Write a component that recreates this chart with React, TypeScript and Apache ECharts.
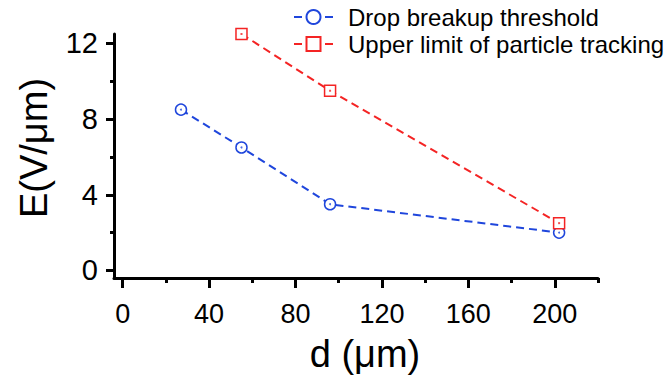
import React, { useEffect, useRef } from 'react';
import * as echarts from 'echarts';

const seriesNames = ['Drop breakup threshold', 'Upper limit of particle tracking'];
const dropD = [27, 55, 96, 202];
const dropE = [8.5, 6.5, 3.5, 2.0];
const upperD = [55, 96, 202];
const upperE = [12.5, 9.5, 2.5];
const xMajorTicks = [0, 40, 80, 120, 160, 200];
const xMinorTicks = [20, 60, 100, 140, 180, 220];
const yMajorTicks = [0, 4, 8, 12];
const yMinorTicks = [2, 6, 10];
const xTitle = 'd (μm)';
const yTitle = 'E(V/μm)';

const BLUE = '#1f46dc';
const RED = '#f42424';
const FONT = '"Liberation Sans", Arial, sans-serif';

export default function App() {
  const ref = useRef<HTMLDivElement>(null);
  useEffect(() => {
    if (!ref.current) return;
    const chart = echarts.init(ref.current, null, { renderer: 'svg' });
    const pairs = (xs: number[], ys: number[]) => xs.map((x, i) => [x, ys[i]]);
    const axisLine = { show: true, onZero: false, lineStyle: { color: '#000', width: 3 } };
    chart.setOption({
      animation: false,
      backgroundColor: '#fff',
      textStyle: { fontFamily: FONT },
      grid: { left: 114, top: 34, width: 484, height: 244, containLabel: false },
      legend: {
        data: seriesNames,
        orient: 'vertical',
        left: 288,
        top: 0,
        itemWidth: 39,
        itemHeight: 17.5,
        itemGap: 3,
        selectedMode: false,
        formatter: (name: string) => `{t|${name}}`,
        textStyle: {
          fontSize: 24, color: '#000', fontFamily: FONT,
          rich: { t: { fontSize: 24, color: '#000', fontFamily: FONT, padding: [0, 0, 0, 10] } },
        },
        lineStyle: { type: [8, 23], width: 2 },
      },
      xAxis: [
        {
          type: 'value', min: -4, max: 220, position: 'bottom',
          axisLine,
          axisTick: { show: true, inside: false, length: 10, lineStyle: { color: '#000', width: 3 }, customValues: xMajorTicks },
          axisLabel: { customValues: xMajorTicks, fontSize: 27, color: '#000', margin: 22, fontFamily: FONT },
          splitLine: { show: false },
          name: xTitle, nameLocation: 'middle', nameGap: 57,
          nameTextStyle: { fontSize: 38, color: '#000', fontFamily: FONT, padding: [0, 0, 0, 18] },
        },
        {
          type: 'value', min: -4, max: 220, position: 'bottom',
          axisLine: { show: false, onZero: false },
          axisTick: { show: true, length: 5, lineStyle: { color: '#000', width: 3 }, customValues: xMinorTicks },
          axisLabel: { show: false },
          splitLine: { show: false },
        },
      ],
      yAxis: [
        {
          type: 'value', min: -0.4, max: 12.5, position: 'left',
          axisLine,
          axisTick: { show: true, inside: false, length: 8, lineStyle: { color: '#000', width: 3 }, customValues: yMajorTicks },
          axisLabel: { customValues: yMajorTicks, fontSize: 29, color: '#000', margin: 16, fontFamily: FONT },
          splitLine: { show: false },
          name: yTitle, nameLocation: 'middle', nameGap: 61, nameRotate: 90,
          nameTextStyle: { fontSize: 38, color: '#000', fontFamily: FONT, padding: [0, 0, 0, 16] },
        },
        {
          type: 'value', min: -0.4, max: 12.5, position: 'left',
          axisLine: { show: false, onZero: false },
          axisTick: { show: true, length: 4, lineStyle: { color: '#000', width: 3 }, customValues: yMinorTicks },
          axisLabel: { show: false },
          splitLine: { show: false },
        },
      ],
      series: [
        {
          name: seriesNames[0], type: 'line', data: pairs(dropD, dropE),
          symbol: 'circle', symbolSize: 11,
          itemStyle: { color: '#fff', borderColor: BLUE, borderWidth: 1.5 },
          lineStyle: { color: BLUE, width: 2, type: [8, 5] },
          z: 3,
        },
        {
          name: seriesNames[1], type: 'line', data: pairs(upperD, upperE),
          symbol: 'rect', symbolSize: 11,
          itemStyle: { color: '#fff', borderColor: RED, borderWidth: 1.5 },
          lineStyle: { color: RED, width: 2, type: [8, 5] },
          z: 3,
        },
        {
          name: 'dropCenters', type: 'scatter', data: pairs(dropD, dropE),
          symbol: 'circle', symbolSize: 2, itemStyle: { color: BLUE }, silent: true, z: 4,
        },
        {
          name: 'upperCenters', type: 'scatter', data: pairs(upperD, upperE),
          symbol: 'rect', symbolSize: 2, itemStyle: { color: RED }, silent: true, z: 4,
        },
      ],
    });
    return () => chart.dispose();
  }, []);
  return <div ref={ref} style={{ position: 'fixed', left: 0, top: 0, width: 670, height: 382 }} />;
}
